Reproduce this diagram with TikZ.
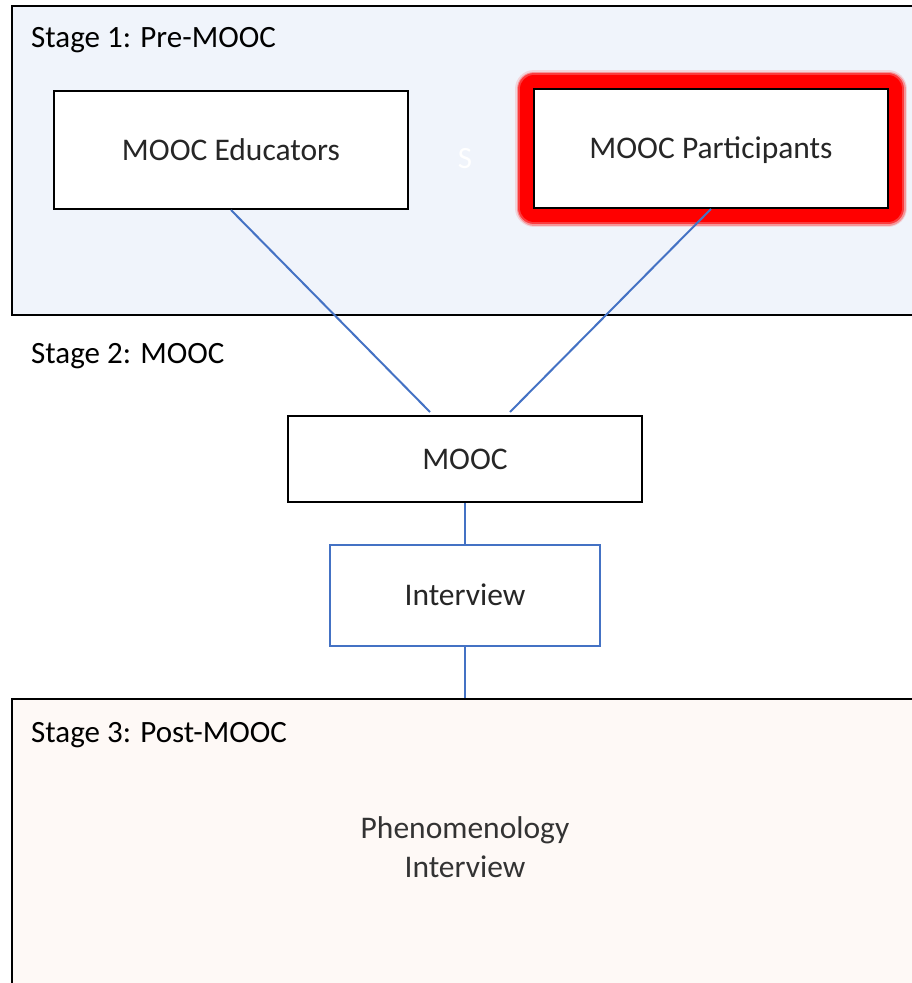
\documentclass[tikz,border=0pt]{standalone}
\usepackage{fontspec}
\setmainfont{Carlito}
\usetikzlibrary{positioning}

\definecolor{stageblue}{HTML}{F0F4FB}
\definecolor{stagepeach}{HTML}{FEF9F6}
\definecolor{linkblue}{HTML}{4472C4}
\definecolor{glowred}{HTML}{FF0000}

\begin{document}
\begin{tikzpicture}[x=1pt,y=-1pt,
  stagebox/.style={draw=black, line width=2pt, inner sep=0pt, anchor=north west},
  stagetitle/.style={anchor=base west, inner sep=0pt, font=\fontsize{31}{37}\selectfont},
  mainbox/.style={draw=black, line width=2pt, fill=white, inner sep=0pt,
    text height=20pt, text depth=0pt, text=black!85, font=\fontsize{31.5}{37}\selectfont},
  glow/.style={
    preaction={draw=glowred, opacity=0.12, line width=38pt, line join=round},
    preaction={draw=glowred, opacity=0.3, line width=35pt, line join=round},
    preaction={draw=glowred, opacity=0.6, line width=32pt, line join=round},
    preaction={draw=glowred, line width=28pt, line join=round}},
  link/.style={draw=linkblue, line width=2pt}]

% -------------------------------------------------
% Cadre
% -------------------------------------------------
\useasboundingbox (0,0) rectangle (912,983);
\clip (0,0) rectangle (912,983);

% -------------------------------------------------
% Stages
% -------------------------------------------------
\node[stagebox, fill=stageblue, minimum width=920pt, minimum height=309pt] (stageone) at (11,5) {};
\node[stagebox, fill=stagepeach, minimum width=920pt, minimum height=300pt] (stagethree) at (11,698) {};

\node[stagetitle] (titleone) at (31,47) {Stage 1: Pre-MOOC};
\node[stagetitle] (titletwo) at (31,363) {Stage 2: MOOC};
\node[stagetitle] (titlethree) at (31,742) {Stage 3: Post-MOOC};

% -------------------------------------------------
% Boxes
% -------------------------------------------------
\node[mainbox, minimum width=354pt, minimum height=118pt] (edu) at (231,150) {MOOC Educators};
\node[mainbox, glow, minimum width=354pt, minimum height=119pt] (part) at (711,148.5) {MOOC Participants};
\node[text=white, inner sep=0pt, font=\fontsize{31}{37}\selectfont] (ghost) at (465,159) {S};

\node[mainbox, minimum width=354pt, minimum height=86pt] (mooc) at (465,459) {MOOC};
\node[mainbox, draw=linkblue, minimum width=270pt, minimum height=101pt] (interview) at (465,595.5) {Interview};

\node[align=center, inner sep=0pt, text=black!80, font=\fontsize{31.5}{39}\selectfont] (pheno) at (465,847) {Phenomenology\\Interview};

% -------------------------------------------------
% Links
% -------------------------------------------------
\draw[link] (edu.south) -- ([xshift=-35pt,yshift=3pt]mooc.north);
\draw[link] (part.south) -- ([xshift=45pt,yshift=3pt]mooc.north);
\draw[link] (mooc.south) -- (interview.north);
\draw[link] (interview.south) -- (interview.south |- stagethree.north);

\end{tikzpicture}
\end{document}
